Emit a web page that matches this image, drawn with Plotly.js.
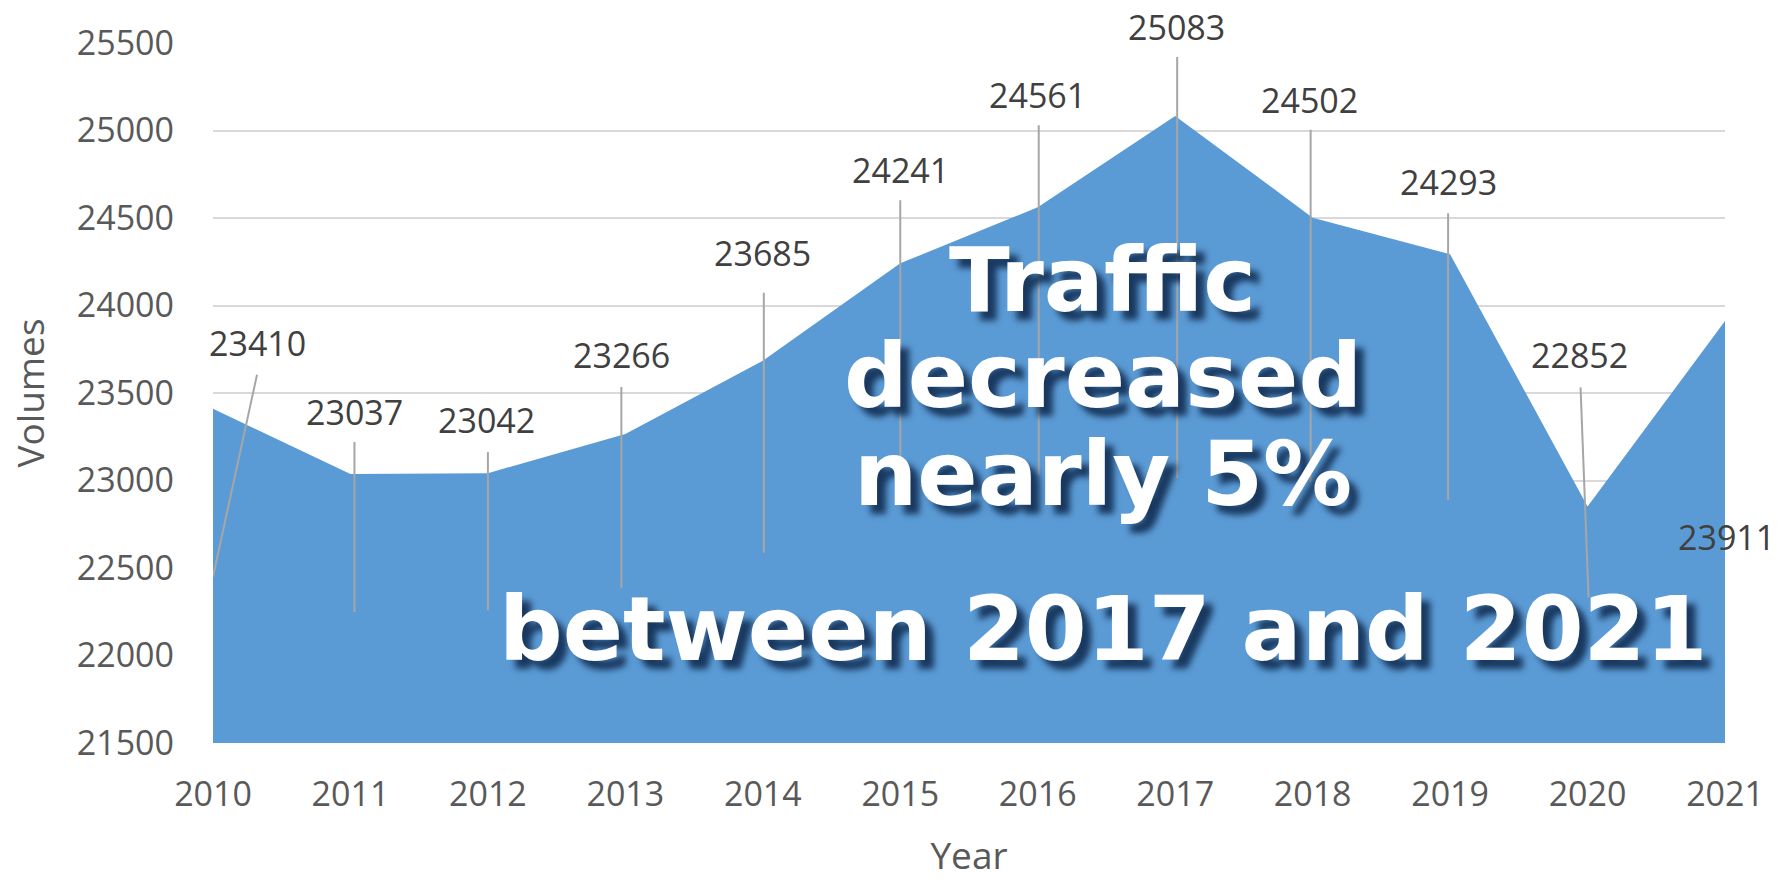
<!DOCTYPE html>
<html>
<head>
<meta charset="utf-8">
<script src="https://cdn.plot.ly/plotly-3.0.1.min.js"></script>
<style>html,body{margin:0;padding:0;background:#ffffff;}</style>
</head>
<body>
<div id="chart" style="width:1786px;height:880px;"></div>
<script>
// ---- data ----
const years = [2010, 2011, 2012, 2013, 2014, 2015, 2016, 2017, 2018, 2019, 2020, 2021];
const volumes = [23410, 23037, 23042, 23266, 23685, 24241, 24561, 25083, 24502, 24293, 22852, 23911];
const yTickValues = [21500, 22000, 22500, 23000, 23500, 24000, 24500, 25000, 25500];
const xTitle = 'Year';
const yTitle = 'Volumes';
const overlayLines = ['Traffic', 'decreased', 'nearly 5%', 'between 2017 and 2021'];

// ---- label placement (pixel offsets from each point) ----
const labelDx = [44, 4, -1, -4, 0, 0, 0, 1, -3, -2, -8, 1];
const labelDy = [66, 62, 53, 79, 108, 93, 112, 89, 118, 72, 151, -216];
// leader lines: [dx, dy] in pixels from the point, top and bottom ends (null = none)
const leaderTop = [[44, 34], [4, 32], [0, 21], [-4, 47], [1, 68], [0, 63], [1, 82], [2, 59], [-2, 88], [-2, 41], [-7, 119], null];
const leaderBottom = [[0, -168], [4, -138], [0, -137], [-4, -154], [1, -192], [0, -239], [1, -268], [2, -362], [-2, -264], [-2, -246], [1, -91], null];
const overlayY = [0.661, 0.524, 0.385, 0.163];

const labelFont = {family: '"Open Sans", sans-serif', size: 34, color: '#404040'};
const tickFont = {family: '"Open Sans", sans-serif', size: 34, color: '#595959'};

const trace = {
  type: 'scatter',
  mode: 'lines',
  x: years,
  y: volumes,
  fill: 'tozeroy',
  fillcolor: '#5b9bd5',
  line: {color: '#5b9bd5', width: 0},
  hoverinfo: 'skip',
  showlegend: false
};

const shapes = [];
years.forEach((yr, i) => {
  if (!leaderTop[i]) return;
  shapes.push({
    type: 'line',
    xref: 'x', yref: 'y',
    xsizemode: 'pixel', ysizemode: 'pixel',
    xanchor: yr, yanchor: volumes[i],
    x0: leaderTop[i][0], y0: leaderTop[i][1],
    x1: leaderBottom[i][0], y1: leaderBottom[i][1],
    line: {color: '#a6a6a6', width: 2},
    layer: 'above'
  });
});

const annotations = years.map((yr, i) => ({
  x: yr, y: volumes[i], xref: 'x', yref: 'y',
  text: String(volumes[i]),
  showarrow: false,
  xshift: labelDx[i], yshift: labelDy[i],
  xanchor: 'center', yanchor: 'middle',
  font: labelFont
}));

overlayLines.forEach((t, i) => {
  annotations.push({
    x: 0.5886, y: overlayY[i], xref: 'paper', yref: 'paper',
    text: '<b>' + t + '</b>',
    showarrow: false,
    xanchor: 'center', yanchor: 'middle',
    font: {family: '"DejaVu Sans", sans-serif', size: 89, color: '#ffffff', weight: 'bold',
           shadow: '9px 9px 6px rgba(18,45,82,0.9)'}
  });
});

const layout = {
  width: 1786, height: 880,
  margin: {l: 213, r: 61, t: 43, b: 137},
  paper_bgcolor: '#ffffff', plot_bgcolor: '#ffffff',
  showlegend: false,
  xaxis: {
    range: [years[0], years[years.length - 1]],
    tickvals: years,
    ticktext: years.map(String),
    showgrid: false, zeroline: false, showline: false,
    ticks: '',
    ticklabelstandoff: 28,
    tickfont: tickFont,
    title: {text: xTitle, font: {family: '"Open Sans", sans-serif', size: 37, color: '#595959'}, standoff: 46},
    fixedrange: true
  },
  yaxis: {
    range: [yTickValues[0], yTickValues[yTickValues.length - 1]],
    tickvals: yTickValues,
    ticktext: yTickValues.map(String),
    showgrid: true, gridcolor: '#d9d9d9', gridwidth: 2,
    zeroline: false, showline: false,
    ticks: '',
    ticklabelstandoff: 38,
    tickfont: tickFont,
    title: {text: yTitle, font: {family: '"Open Sans", sans-serif', size: 37, color: '#595959'}, standoff: 20},
    fixedrange: true
  },
  shapes: shapes,
  annotations: annotations
};

Plotly.newPlot('chart', [trace], layout, {displayModeBar: false, staticPlot: true});
</script>
</body>
</html>
